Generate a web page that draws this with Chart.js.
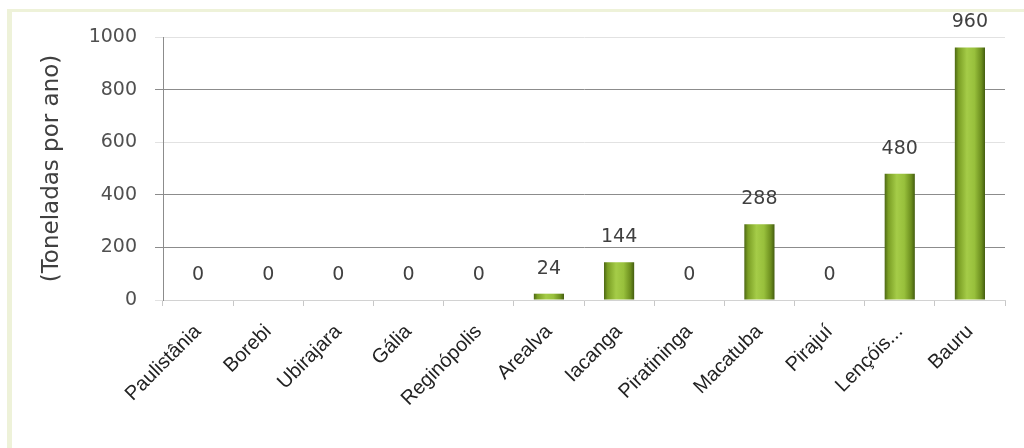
<!DOCTYPE html>
<html lang="pt">
<head>
<meta charset="utf-8">
<title>Toneladas por ano</title>
<script src="https://cdn.jsdelivr.net/npm/chart.js@4/dist/chart.umd.min.js"></script>
<style>
  html, body { margin: 0; padding: 0; background: #fff; }
  #wrap { position: relative; width: 1024px; height: 448px; }
  #moldura {
    position: absolute; left: 7px; top: 9px; right: 0; bottom: 0;
    border-left: 5px solid #eef2d9; border-top: 3px solid #eef2d9;
    pointer-events: none;
  }
  canvas { display: block; }
</style>
</head>
<body>
<div id="wrap">
  <canvas id="grafico" width="1024" height="448"></canvas>
  <div id="moldura"></div>
</div>
<script>
// ---- dados ----
const municipios = ["Paulistânia", "Borebi", "Ubirajara", "Gália", "Reginópolis", "Arealva",
                    "Iacanga", "Piratininga", "Macatuba", "Pirajuí", "Lençóis...", "Bauru"];
const toneladas = [0, 0, 0, 0, 0, 24, 144, 0, 288, 0, 480, 960];
const eixoY = [0, 200, 400, 600, 800, 1000];

const LARGURA_BARRA = 0.43;

// gradiente verde "cilindro" para cada barra
function corBarra(c) {
  const chart = c.chart;
  const x = chart.scales && chart.scales.x;
  if (!chart.chartArea || !x) return "#8db535";
  const centro = x.getPixelForValue(c.dataIndex);
  const meia = (chart.chartArea.width / municipios.length) * LARGURA_BARRA / 2;
  const g = chart.ctx.createLinearGradient(centro - meia, 0, centro + meia, 0);
  g.addColorStop(0, "#4d6814");
  g.addColorStop(0.12, "#7a9e24");
  g.addColorStop(0.4, "#a5cc48");
  g.addColorStop(0.65, "#98c03c");
  g.addColorStop(0.88, "#6c8e1e");
  g.addColorStop(1, "#445d10");
  return g;
}

// rótulo com o valor em cima de cada barra
const rotulosValor = {
  id: "rotulosValor",
  afterDatasetsDraw(chart) {
    const ctx = chart.ctx;
    const meta = chart.getDatasetMeta(0);
    ctx.save();
    ctx.font = "19px 'DejaVu Sans'";
    ctx.fillStyle = "#404040";
    ctx.textAlign = "center";
    ctx.textBaseline = "middle";
    meta.data.forEach((barra, i) => {
      ctx.fillText(String(toneladas[i]), barra.x, barra.y - 25);
    });
    ctx.restore();
  }
};

new Chart(document.getElementById("grafico"), {
  type: "bar",
  data: {
    labels: municipios,
    datasets: [{
      data: toneladas,
      backgroundColor: corBarra,
      borderWidth: 0,
      barPercentage: LARGURA_BARRA,
      categoryPercentage: 1
    }]
  },
  options: {
    responsive: false,
    animation: false,
    layout: { padding: { left: 0, top: 37, right: 19, bottom: 0 } },
    plugins: {
      legend: { display: false },
      tooltip: { enabled: false }
    },
    scales: {
      x: {
        afterFit: s => { s.height = 148; },
        grid: {
          display: true,
          drawOnChartArea: false,
          tickLength: 6,
          color: "#c8c8c8"
        },
        border: { display: true, color: "#d2d2d2", width: 1 },
        ticks: {
          minRotation: 45,
          maxRotation: 45,
          autoSkip: false,
          padding: 14,
          color: "#222",
          font: { family: "'Liberation Sans', Arial, sans-serif", size: 20 }
        }
      },
      y: {
        min: 0,
        max: 1000,
        afterFit: s => { s.width = 163; },
        afterBuildTicks: s => { s.ticks = eixoY.map(v => ({ value: v })); },
        grid: {
          tickLength: 8,
          color: c => ([200, 400, 800].includes(c.tick.value) ? "#8c8c8c" : "#e2e2e2")
        },
        border: { display: true, color: "#8c8c8c", width: 1 },
        ticks: {
          padding: 18,
          color: "#505050",
          font: { family: "'DejaVu Sans', sans-serif", size: 19 },
          callback: v => String(v)
        },
        title: {
          display: true,
          text: "(Toneladas por ano)",
          color: "#404040",
          padding: { top: 38, bottom: 0 },
          font: { family: "'DejaVu Sans', sans-serif", size: 23 }
        }
      }
    }
  },
  plugins: [rotulosValor]
});
</script>
</body>
</html>
